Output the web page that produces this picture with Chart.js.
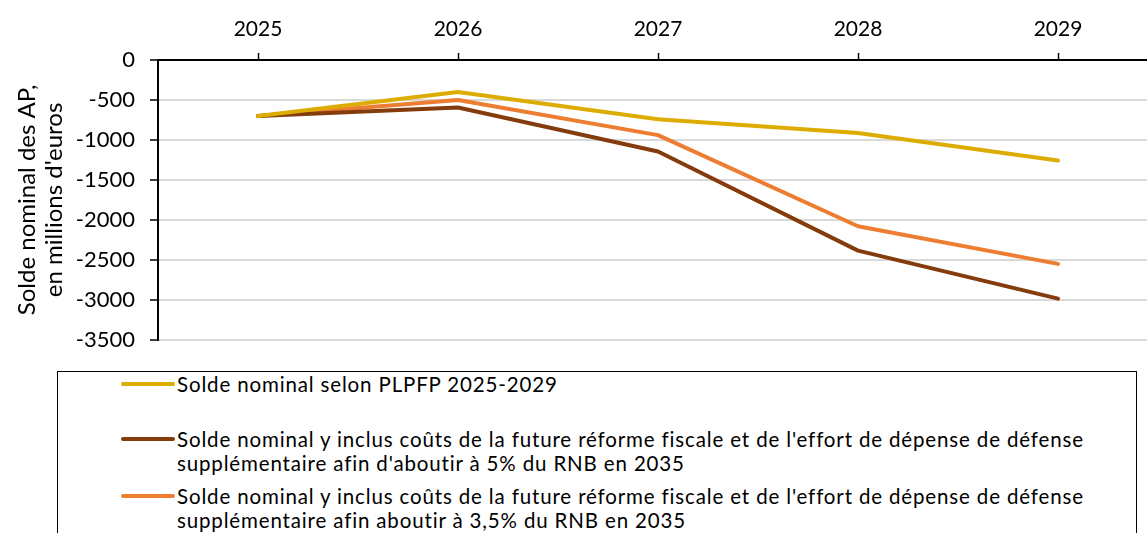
<!DOCTYPE html>
<html>
<head>
<meta charset="utf-8">
<script src="https://cdn.jsdelivr.net/npm/chart.js@4"></script>
<style>
  html, body { margin: 0; padding: 0; background: #fff; overflow: hidden; }
  #wrap { position: relative; width: 1160px; height: 533px; }
  #chartBox { position: absolute; left: 0; top: 0; width: 1160px; height: 368px; }
  #legend {
    position: absolute; left: 57px; top: 371px; width: 1080px; height: 200px;
    border: 1.5px solid #000; box-sizing: border-box; background: #fff;
    font-family: Lato, "Liberation Sans", sans-serif; font-size: 20.5px; letter-spacing: 0.85px; color: #000;
  }
  .item { position: absolute; left: 119px; width: 930px; line-height: 24px; }
  .item .swatch {
    position: absolute; left: -56px; top: 10px; width: 54px; height: 4px; border-radius: 2px;
  }
</style>
</head>
<body>
<div id="wrap">
  <div id="chartBox"><canvas id="c"></canvas></div>
  <div id="legend"></div>
</div>
<script>
// ===== Solde nominal des AP =====

const years = ["2025", "2026", "2027", "2028", "2029"];

const plpfp = [-700, -400, -740, -912, -1258];
const defense5 = [-700, -595, -1145, -2385, -2985];
const defense35 = [-700, -500, -940, -2080, -2550];

const seriesNames = [
  "Solde nominal selon PLPFP 2025-2029",
  "Solde nominal y inclus coûts de la future réforme fiscale et de l'effort de dépense de défense supplémentaire afin d'aboutir à 5% du RNB en 2035",
  "Solde nominal y inclus coûts de la future réforme fiscale et de l'effort de dépense de défense supplémentaire afin aboutir à 3,5% du RNB en 2035",
];
const colors = ["#DDAC00", "#843C0C", "#ED7D31"];

const yMin = -3500;
const yMax = 0;
const yStep = 500;

const FONT = "Lato, 'Liberation Sans', sans-serif";

const ctx = document.getElementById("c");
const chart = new Chart(ctx, {
  type: "line",
  data: {
    labels: years,
    datasets: [plpfp, defense5, defense35].map((d, i) => ({
      label: seriesNames[i],
      data: d,
      borderColor: colors[i],
      backgroundColor: colors[i],
      borderWidth: 4,
      pointRadius: 0,
      tension: 0,
      borderCapStyle: "round",
      borderJoinStyle: "round",
    })),
  },
  options: {
    responsive: true,
    maintainAspectRatio: false,
    animation: false,
    layout: { padding: { right: 2, bottom: 0 } },
    plugins: { legend: { display: false }, tooltip: { enabled: false } },
    scales: {
      x: {
        position: "top",
        offset: true,
        grid: {
          offset: false,
          drawOnChartArea: false,
          tickLength: 7,
          tickColor: "#000",
          tickWidth: 1.5,
        },
        border: { color: "#000", width: 2 },
        ticks: { color: "#000", font: { family: FONT, size: 21 }, padding: 11, maxRotation: 0 },
        afterFit: (s) => { s.height = 60; },
      },
      y: {
        min: yMin,
        max: yMax,
        ticks: {
          stepSize: yStep,
          color: "#000",
          font: { family: FONT, size: 22 },
          padding: 15,
          callback: (v) => String(v),
        },
        grid: { color: "#d9d9d9", lineWidth: 2, tickColor: "#000", tickLength: 8, tickWidth: 1.5 },
        border: { color: "#000", width: 2 },
        title: {
          display: true,
          text: ["Solde nominal des AP,", "en millions d'euros"],
          color: "#000",
          font: { family: FONT, size: 24, lineHeight: 1.15 },
          padding: { top: 13, bottom: 0 },
        },
        afterFit: (s) => { s.width = 158; },
      },
    },
  },
});

// ---- HTML legend (wrapped labels) ----
const legendEl = document.getElementById("legend");
const itemTops = [0, 55, 112];
seriesNames.forEach((name, i) => {
  const div = document.createElement("div");
  div.className = "item";
  div.style.top = itemTops[i] + "px";
  const sw = document.createElement("span");
  sw.className = "swatch";
  sw.style.background = colors[i];
  div.appendChild(sw);
  div.appendChild(document.createTextNode(name));
  legendEl.appendChild(div);
});
</script>
</body>
</html>
